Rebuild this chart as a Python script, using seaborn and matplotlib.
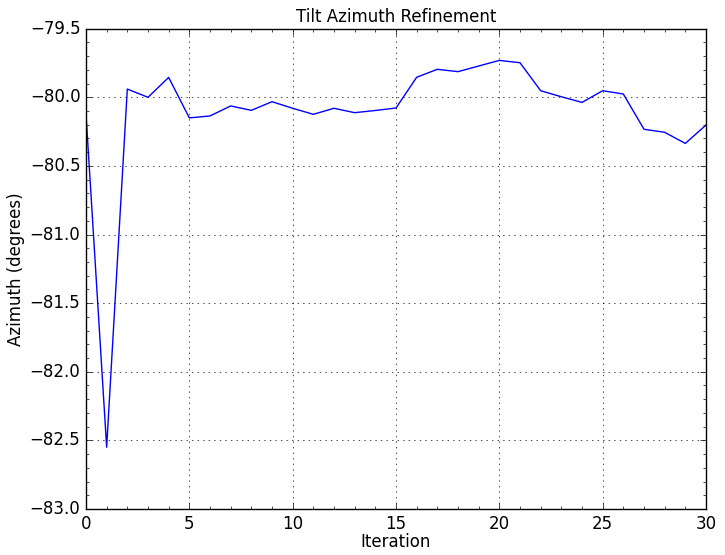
import numpy as np
import pandas as pd
import matplotlib
matplotlib.use("Agg")
import matplotlib.pyplot as plt
import seaborn as sns
from matplotlib.ticker import MultipleLocator

plt.style.use("classic")
plt.rcParams["axes.unicode_minus"] = True

iteration = list(range(31))
azimuth = [-80.12, -82.55, -79.94, -80.00, -79.855, -80.15, -80.136, -80.063,
           -80.095, -80.032, -80.08, -80.124, -80.08, -80.112, -80.096, -80.078,
           -79.854, -79.796, -79.813, -79.772, -79.731, -79.748, -79.952,
           -79.996, -80.037, -79.952, -79.976, -80.233, -80.255, -80.336,
           -80.202]

df = pd.DataFrame({"Iteration": iteration, "Azimuth": azimuth})

fig = plt.figure(figsize=(7.25, 5.55), dpi=100, facecolor="white")
ax = fig.add_axes([0.1186, 0.0829, 0.8552, 0.8654])
sns.lineplot(data=df, x="Iteration", y="Azimuth", color="b", linewidth=1.0, ax=ax)

ax.set_xlim(0, 30)
ax.set_ylim(-83, -79.5)
ax.xaxis.set_major_locator(MultipleLocator(5))
ax.xaxis.set_minor_locator(MultipleLocator(1))
ax.yaxis.set_major_locator(MultipleLocator(0.5))
ax.yaxis.set_minor_locator(MultipleLocator(0.1))
ax.grid(True, which="major", color="k", linestyle=":", linewidth=0.5)

ax.set_title("Tilt Azimuth Refinement", fontsize=12)
ax.set_xlabel("Iteration", fontsize=12, labelpad=0)
ax.set_ylabel("Azimuth (degrees)", fontsize=12, labelpad=3.5)

fig.savefig("out.png", dpi=100, facecolor="white")
